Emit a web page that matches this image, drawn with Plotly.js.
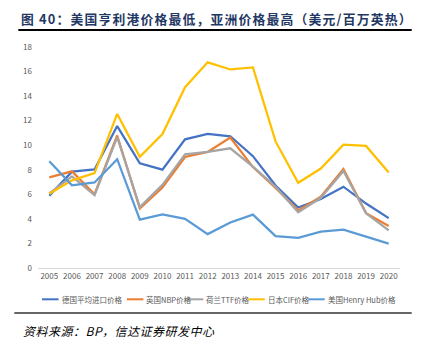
<!DOCTYPE html>
<html>
<head>
<meta charset="utf-8">
<script src="https://cdn.plot.ly/plotly-3.0.1.min.js"></script>
<style>html,body{margin:0;padding:0;background:#fff;}#chart{width:423px;height:354px;}</style>
</head>
<body>
<div id="chart"></div>
<script>
const years = ['2005','2006','2007','2008','2009','2010','2011','2012','2013','2014','2015','2016','2017','2018','2019','2020'];
const germany = [5.88, 7.85, 8.03, 11.56, 8.52, 8.01, 10.48, 10.93, 10.73, 9.11, 6.72, 4.93, 5.62, 6.62, 5.25, 4.06];
const ukNBP = [7.38, 7.87, 6.01, 10.79, 4.85, 6.56, 9.04, 9.46, 10.63, 8.22, 6.53, 4.69, 5.80, 8.06, 4.47, 3.42];
const nlTTF = [6.07, 7.46, 5.93, 10.66, 4.96, 6.77, 9.26, 9.45, 9.75, 8.25, 6.61, 4.54, 5.72, 7.90, 4.45, 3.07];
const japanCIF = [6.05, 7.14, 7.73, 12.55, 9.06, 10.91, 14.73, 16.75, 16.17, 16.33, 10.31, 6.94, 8.10, 10.05, 9.94, 7.77];
const henryHub = [8.69, 6.73, 6.97, 8.86, 3.94, 4.37, 4.00, 2.76, 3.71, 4.35, 2.60, 2.46, 2.96, 3.13, 2.56, 1.99];
const seriesNames = ['德国平均进口价格', '英国NBP价格', '荷兰TTF价格', '日本CIF价格', '美国Henry Hub价格'];
const yTicks = [0, 2, 4, 6, 8, 10, 12, 14, 16, 18];

const colors = ['#4472C4', '#ED7D31', '#A5A5A5', '#FFC000', '#5B9BD5'];
const data = [germany, ukNBP, nlTTF, japanCIF, henryHub].map((v, i) => ({
  type: 'scatter', mode: 'lines', x: years, y: v, name: seriesNames[i],
  line: {color: colors[i], width: 2.25}
}));

const L = 37.7, R = 22.7, T = 47, B = 86;
const W = 423 - L - R, H = 354 - T - B;
const px = x => (x - L) / W;
const py = y => (354 - B - y) / H;

// custom legend (positions in pixels)
const legStarts = [41.7, 126.7, 186.7, 248.3, 308.3];
const legY = 299.3, legLine = 16.6;
const legShapes = legStarts.map((s, i) => ({type: 'line', xref: 'paper', yref: 'paper',
  x0: px(s), x1: px(s + legLine), y0: py(legY), y1: py(legY), line: {color: colors[i], width: 2}}));
const legAnns = legStarts.map((s, i) => ({xref: 'paper', yref: 'paper', x: px(s + legLine + 1), y: py(legY),
  xanchor: 'left', yanchor: 'middle', showarrow: false, text: seriesNames[i],
  font: {size: 7.5, color: '#595959'}}));

const layout = {
  width: 423, height: 354,
  margin: {l: L, r: R, t: T, b: B, pad: 0},
  paper_bgcolor: '#fff', plot_bgcolor: '#fff',
  font: {family: '"Noto Sans CJK SC", "Noto Sans", sans-serif', color: '#595959'},
  showlegend: false,
  xaxis: {type: 'category', range: [-0.5, 15.5], showgrid: false, zeroline: false,
    showline: true, linecolor: '#D9D9D9', linewidth: 1, ticks: '',
    tickfont: {size: 8, color: '#595959'}, fixedrange: true},
  yaxis: {range: [0, 18], tickvals: yTicks, showgrid: false, zeroline: false, showline: false,
    ticks: '', tickfont: {size: 8, color: '#595959'}, ticklabelstandoff: 5, fixedrange: true},
  shapes: [
    {type: 'line', xref: 'paper', yref: 'paper', x0: px(18), x1: px(412), y0: py(30), y1: py(30),
      line: {color: '#000', width: 2}},
    {type: 'line', xref: 'paper', yref: 'paper', x0: px(14), x1: px(412), y0: py(313), y1: py(313),
      line: {color: '#333', width: 1.5}}
  ].concat(legShapes),
  annotations: [
    {xref: 'paper', yref: 'paper', x: px(19), y: py(18), xanchor: 'left', yanchor: 'middle', showarrow: false,
      text: '<b><span style="letter-spacing:1.2px">图 40：美国亨利港价格最低，亚洲价格最高（美元/百万英热）</span></b>',
      font: {size: 12.8, color: '#1F3864', family: '"Noto Sans CJK SC", sans-serif'}},
    {xref: 'paper', yref: 'paper', x: px(21), y: py(330), xanchor: 'left', yanchor: 'middle', showarrow: false,
      text: '<i><span style="letter-spacing:0.5px">资料来源：BP，信达证券研发中心</span></i>',
      font: {size: 12, color: '#000', family: '"Noto Sans CJK SC", sans-serif'}}
  ].concat(legAnns)
};
Plotly.newPlot('chart', data, layout, {displayModeBar: false, staticPlot: true});
</script>
</body>
</html>
